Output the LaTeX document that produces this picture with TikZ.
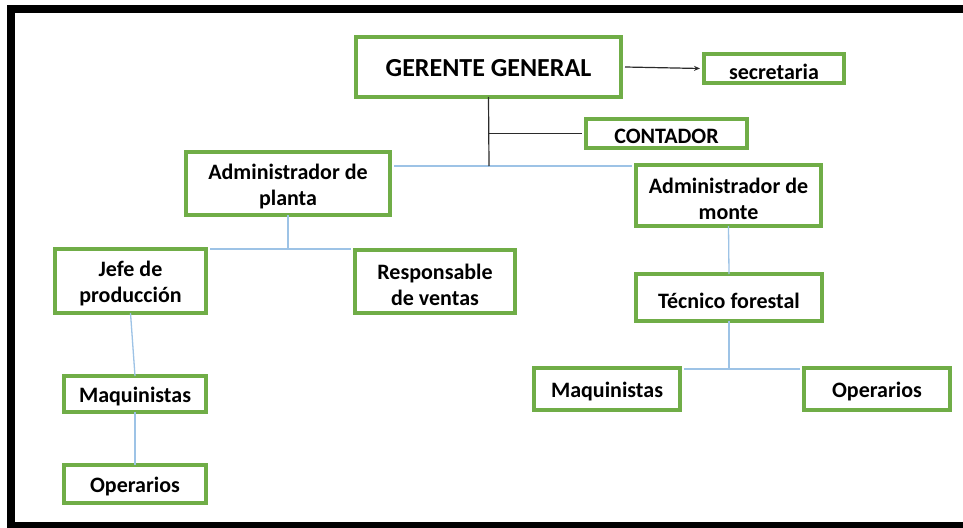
\documentclass[tikz,border=0pt]{standalone}
\usepackage{fontspec}
\setmainfont{Carlito}
\usetikzlibrary{arrows.meta}
\definecolor{boxgreen}{HTML}{70AD47}
\definecolor{linkblue}{HTML}{9DC3E6}
\definecolor{linkdark}{HTML}{2B2B2B}
\tikzset{
  orgbox/.style={draw=boxgreen, line width=4pt, fill=white, inner sep=0pt},
  orgtext/.style={inner sep=0pt, align=center, yshift=-3pt,
    font=\fontsize{22}{26}\selectfont\bfseries},
  bigtext/.style={inner sep=0pt, align=center, yshift=-1pt,
    font=\fontsize{26}{30}\selectfont\bfseries},
  bluelink/.style={draw=linkblue, line width=1.3pt},
  darklink/.style={draw=linkdark, line width=1.2pt}
}
% #1 name, #2 center, #3 width, #4 height, #5 text style, #6 text
\newcommand\orgunit[6]{%
  \node[orgbox, minimum width=#3, minimum height=#4] (#1) at (#2) {};
  \node[#5] (#1-t) at (#1.center) {#6};}
\begin{document}
\begin{tikzpicture}[x=1pt,y=-1pt]
\useasboundingbox (0,0) rectangle (963,527);
\begin{scope}
\clip (0,0) rectangle (963,527);
\fill[white] (0,0) rectangle (963,527);
\draw[line width=8pt] (970,9) -- (11,9) -- (11,526) -- (970,526);
\end{scope}
% nodes
\orgunit{gg}{488.5,67}{265pt}{60pt}{bigtext}{GERENTE GENERAL}
\orgunit{sec}{774,68.5}{140pt}{29pt}{orgtext}{secretaria}
\orgunit{cont}{666.5,133.5}{161pt}{29pt}{orgtext}{CONTADOR}
\orgunit{ap}{288,183.5}{204pt}{63pt}{orgtext}{Administrador de\\planta}
\orgunit{am}{728.5,195.5}{185pt}{61pt}{orgtext}{Administrador de\\monte}
\orgunit{jefe}{130.5,281}{151pt}{64pt}{orgtext}{Jefe de\\producción}
\orgunit{resp}{435,281.5}{160pt}{63pt}{orgtext}{Responsable\\de ventas}
\orgunit{tec}{729,297.5}{186pt}{47pt}{orgtext}{Técnico forestal}
\orgunit{maqR}{607,389}{146pt}{42pt}{orgtext}{Maquinistas}
\orgunit{opR}{877,389}{146pt}{42pt}{orgtext}{Operarios}
\orgunit{maqL}{135,394}{142pt}{36pt}{orgtext}{Maquinistas}
\orgunit{opL}{135,484}{142pt}{38pt}{orgtext}{Operarios}
% junctions
\coordinate (j1) at (489,166);
\coordinate (j2) at (288,249);
\coordinate (j3) at (729,369);
% connectors
\draw[darklink, -{Stealth[length=6pt,width=5pt]}] ([xshift=2pt]gg.east) -- ([xshift=-2pt]sec.west);
\draw[bluelink] ([xshift=2pt]ap.east |- j1) -- (j1) -- ([xshift=-2pt]am.west |- j1);
\draw[darklink] ([yshift=2pt]gg.south) -- (j1);
\draw[darklink] (gg.south |- cont.west) -- ([xshift=-2pt]cont.west);
\draw[bluelink] ([yshift=2pt]ap.south) -- (j2);
\draw[bluelink] ([xshift=2pt]jefe.east |- j2) -- ([xshift=-2pt]resp.west |- j2);
\draw[bluelink] ([yshift=2pt]jefe.south) -- ([yshift=-2pt]maqL.north);
\draw[bluelink] ([yshift=2pt]maqL.south) -- ([yshift=-2pt]opL.north);
\draw[bluelink] ([yshift=2pt]am.south) -- ([yshift=-2pt]tec.north);
\draw[bluelink] ([yshift=2pt]tec.south) -- (j3);
\draw[bluelink] ([xshift=2pt]maqR.east |- j3) -- ([xshift=-2pt]opR.west |- j3);
\end{tikzpicture}
\end{document}
